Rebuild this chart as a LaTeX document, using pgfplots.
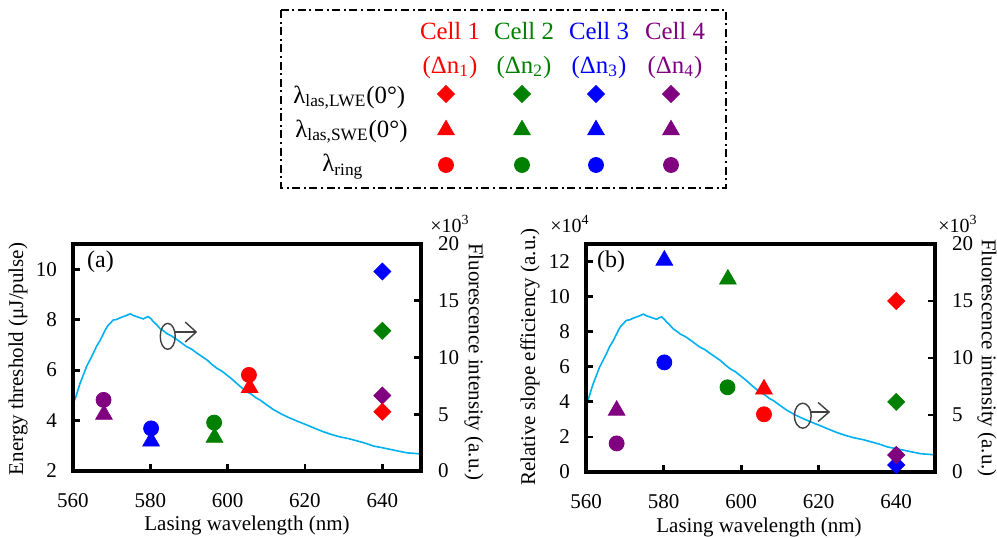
\documentclass[border=0pt]{standalone}
\usepackage{pgfplots}
\pgfplotsset{compat=1.18}
\usepackage{pgfplotstable}
\usepackage{fontspec}
\setmainfont{Liberation Serif}
\usetikzlibrary{arrows.meta}
\definecolor{cred}{HTML}{FF0000}
\definecolor{cgreen}{HTML}{008000}
\definecolor{cblue}{HTML}{0000FF}
\definecolor{cpurple}{HTML}{800080}
\definecolor{ccyan}{HTML}{00B0F0}

\pgfplotstableread{
lam v
560.0 5.9
560.8 6.6
561.8 7.7
562.6 8.4
563.5 9.2
564.4 9.8
565.3 10.4
566.1 11.0
567.0 11.5
568.3 12.4
569.0 12.8
569.6 13.0
570.4 13.3
571.3 13.35
572.2 13.5
573.0 13.6
573.8 13.7
574.8 13.85
575.6 13.7
576.5 13.6
577.3 13.5
578.2 13.4
579.0 13.55
579.5 13.6
580.2 13.4
580.8 13.15
581.6 12.9
582.5 12.55
583.4 12.35
584.3 12.1
585.5 11.9
586.8 11.6
588.0 11.3
589.4 10.95
590.6 10.75
592.0 10.4
593.3 10.1
594.6 9.8
595.9 9.4
597.2 9.05
598.5 8.8
599.8 8.45
601.1 8.1
602.4 7.7
603.6 7.35
604.9 7.0
606.2 6.75
607.3 6.45
608.4 6.25
610.2 5.8
611.9 5.4
614.0 5.0
616.2 4.65
618.3 4.35
620.5 4.05
622.6 3.75
624.8 3.45
627.0 3.2
629.1 3.0
631.3 2.85
633.5 2.65
635.6 2.45
637.7 2.2
640.0 2.05
642.1 1.9
644.2 1.75
646.4 1.6
648.4 1.55
650.0 1.5
}\fluo

\pgfplotsset{
  base/.style={scale only axis, xmin=560, xmax=650,
    /pgf/number format/assume math mode=true,
    tick label style={font=\fontsize{10.5}{12}\selectfont},
    tick align=inside, major tick length=3.5pt,
    every tick/.style={black, line width=1.4pt},
    axis line style={line width=1.6pt},
    anchor=south west},
  rightax/.style={base, axis y line*=right, hide x axis,
    ymin=0, ymax=20, ytick={0,5,10,15,20},
    yticklabel style={xshift=5pt}},
  leftax/.style={base, xtick={560,580,...,640}, xtick pos=bottom, ytick pos=left,
    xticklabel style={yshift=-7.5pt}, yticklabel style={xshift=-4.5pt}},
  dia/.style={only marks, mark=square*, mark size=3pt, color=#1, mark options={rotate=45, fill=#1, draw=#1}},
  tri/.style={only marks, mark=triangle*, mark size=4.8pt, color=#1},
  cir/.style={only marks, mark=*, mark size=3.75pt, color=#1},
}

\begin{document}
\begin{tikzpicture}
\useasboundingbox (0,0) rectangle (498.5pt,268.5pt);

% ---------- panel (a)
\begin{axis}[rightax, at={(36.5pt,33pt)}, width=174pt, height=113.5pt]
\addplot[ccyan, line width=0.8pt] table[x=lam, y=v] {\fluo};
\end{axis}
\begin{axis}[leftax, at={(36.5pt,33pt)}, width=174pt, height=113.5pt,
  ymin=2, ymax=11, ytick={2,4,6,8,10}, clip=false]
\addplot[tri=cpurple] coordinates {(568.0,4.24)};
\addplot[tri=cblue] coordinates {(580.2,3.18)};
\addplot[tri=cgreen] coordinates {(596.6,3.33)};
\addplot[tri=cred] coordinates {(605.7,5.30)};
\addplot[cir=cpurple] coordinates {(567.9,4.82)};
\addplot[cir=cblue] coordinates {(580.2,3.69)};
\addplot[cir=cgreen] coordinates {(596.5,3.92)};
\addplot[cir=cred] coordinates {(605.5,5.81)};
\addplot[dia=cblue] coordinates {(640,9.91)};
\addplot[dia=cgreen] coordinates {(640,7.56)};
\addplot[dia=cpurple] coordinates {(640,4.99)};
\addplot[dia=cred] coordinates {(640,4.35)};
\draw[black!75, line width=0.7pt] (axis cs:584.5,7.34) ellipse [x radius=3.75pt, y radius=6.5pt];
\coordinate (arA) at (axis cs:584.5,7.51);
\end{axis}
\draw[black!75, line width=0.7pt, -{Straight Barb[length=5.5pt,width=10pt,line width=0.7pt]}] ([xshift=3.75pt]arA) -- ([xshift=14.75pt]arA);

% ---------- panel (b)
\begin{axis}[rightax, at={(293pt,32.5pt)}, width=174.5pt, height=114pt]
\addplot[ccyan, line width=0.8pt] table[x=lam, y=v] {\fluo};
\end{axis}
\begin{axis}[leftax, at={(293pt,32.5pt)}, width=174.5pt, height=114pt,
  ymin=0, ymax=13, ytick={0,2,...,12}, clip=false]
\addplot[tri=cpurple] coordinates {(567.9,3.51)};
\addplot[tri=cblue] coordinates {(580.2,12.07)};
\addplot[tri=cgreen] coordinates {(596.6,10.99)};
\addplot[tri=cred] coordinates {(605.9,4.72)};
\addplot[cir=cpurple] coordinates {(567.9,1.63)};
\addplot[cir=cblue] coordinates {(580.2,6.25)};
\addplot[cir=cgreen] coordinates {(596.5,4.83)};
\addplot[cir=cred] coordinates {(605.9,3.29)};
\addplot[dia=cred] coordinates {(640,9.75)};
\addplot[dia=cgreen] coordinates {(640,4.0)};
\addplot[dia=cblue] coordinates {(640,0.40)};
\addplot[dia=cpurple] coordinates {(640,0.97)};
\draw[black!75, line width=0.7pt] (axis cs:615.9,3.21) ellipse [x radius=4.2pt, y radius=6.25pt];
\coordinate (arB) at (axis cs:615.9,3.42);
\end{axis}
\draw[black!75, line width=0.7pt, -{Straight Barb[length=5.5pt,width=9.5pt,line width=0.7pt]}] ([xshift=4.2pt]arB) -- ([xshift=13.7pt]arB);

% ---------- canvas: labels and legend (pixel coordinates)
\begin{axis}[at={(0pt,0pt)}, anchor=south west, scale only axis, width=498.5pt, height=268.5pt,
  xmin=0, xmax=997, ymin=0, ymax=537, hide axis, clip=false]
\node[font=\fontsize{12}{14}\selectfont] at (axis cs:100.5,275) {(a)};
\node[font=\fontsize{12}{14}\selectfont] at (axis cs:611,275) {(b)};
\node[font=\fontsize{10.5}{12}\selectfont] at (axis cs:247,12) {Lasing wavelength (nm)};
\node[font=\fontsize{10.5}{12}\selectfont] at (axis cs:759,10) {Lasing wavelength (nm)};
\node[font=\fontsize{10.5}{12}\selectfont, rotate=90] at (axis cs:18,178) {Energy threshold (μJ/pulse)};
\node[font=\fontsize{10.5}{12}\selectfont, rotate=-90] at (axis cs:474,175) {Fluorescence intensity (a.u.)};
\node[font=\fontsize{10.5}{12}\selectfont, rotate=90] at (axis cs:530,180) {Relative slope efficiency (a.u.)};
\node[font=\fontsize{10.5}{12}\selectfont, rotate=-90] at (axis cs:987,179) {Fluorescence intensity (a.u.)};
\begin{scope}[every node/.style={font=\fontsize{10}{12}\selectfont, inner sep=0pt}]
\node at (axis cs:450,313) {×10\textsuperscript{3}};
\node at (axis cs:570,313) {×10\textsuperscript{4}};
\node at (axis cs:958,313) {×10\textsuperscript{3}};
\end{scope}
% legend box
\draw[line width=1.1pt, dash pattern=on 4pt off 1.8pt on 1pt off 1.8pt] (axis cs:281,527) rectangle (axis cs:726,349);
\begin{scope}[every node/.style={font=\fontsize{12.4}{14}\selectfont, inner sep=0pt}]
\node[anchor=base, text=cred] at (axis cs:450,497) {Cell 1};
\node[anchor=base, text=cgreen] at (axis cs:524,497) {Cell 2};
\node[anchor=base, text=cblue] at (axis cs:599,497) {Cell 3};
\node[anchor=base, text=cpurple] at (axis cs:675,497) {Cell 4};
\node[anchor=base, text=cred] at (axis cs:450,464) {(Δn\textsubscript{1})};
\node[anchor=base, text=cgreen] at (axis cs:524,464) {(Δn\textsubscript{2})};
\node[anchor=base, text=cblue] at (axis cs:599,464) {(Δn\textsubscript{3})};
\node[anchor=base, text=cpurple] at (axis cs:675,464) {(Δn\textsubscript{4})};
\node[anchor=base west] at (axis cs:293,434) {λ\textsubscript{las,LWE}(0°)};
\node[anchor=base west] at (axis cs:295,400) {λ\textsubscript{las,SWE}(0°)};
\node[anchor=base west] at (axis cs:322,365) {λ\textsubscript{ring}};
\end{scope}
\addplot[dia=cred] coordinates {(446,443)};
\addplot[dia=cgreen] coordinates {(522,443)};
\addplot[dia=cblue] coordinates {(596,443)};
\addplot[dia=cpurple] coordinates {(671,443)};
\addplot[tri=cred] coordinates {(446,407)};
\addplot[tri=cgreen] coordinates {(522,407)};
\addplot[tri=cblue] coordinates {(596,407)};
\addplot[tri=cpurple] coordinates {(671,407)};
\addplot[cir=cred] coordinates {(446,372)};
\addplot[cir=cgreen] coordinates {(522,372)};
\addplot[cir=cblue] coordinates {(596,372)};
\addplot[cir=cpurple] coordinates {(671,372)};
\end{axis}
\end{tikzpicture}
\end{document}
